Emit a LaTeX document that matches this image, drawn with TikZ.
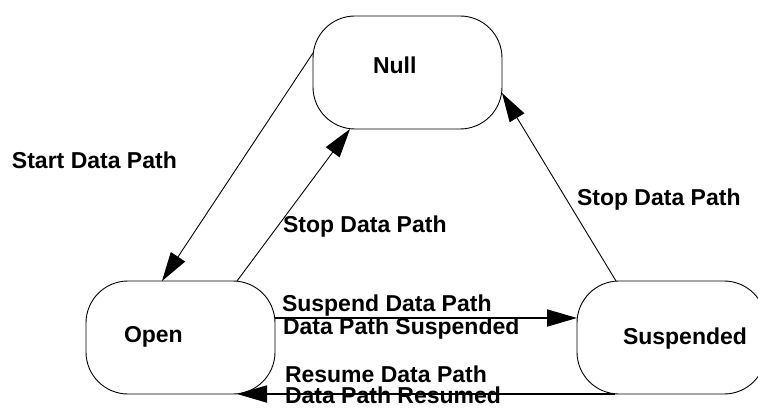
\documentclass[tikz,border=0pt]{standalone}
\usepackage{fontspec}
\setmainfont{Liberation Sans}
\usetikzlibrary{arrows.meta}
\begin{document}
\begin{tikzpicture}[x=1pt,y=-1pt,
  statebox/.style={draw=black,line width=0.9pt,rounded corners=42pt,minimum width=189pt,minimum height=113pt,inner sep=0pt,outer sep=0pt},
  lbl/.style={anchor=base west,inner sep=0pt,outer sep=0pt,font=\fontsize{23}{27}\selectfont\bfseries},
  thinarrow/.style={line width=0.9pt,-{Triangle[length=29pt,width=17pt]}},
  thickarrow/.style={line width=1.8pt,-{Triangle[length=30pt,width=17pt]}}]
\useasboundingbox (0,0) rectangle (758,409);
\fill[white] (0,0) rectangle (758,409);
% state boxes
\node[statebox] (null) at (407.5,72.5) {};
\node[statebox] (open) at (180.5,337.5) {};
\node[statebox] (susp) at (671.5,337.5) {};
% state names
\node[lbl] (tnull) at (373,73.5) {Null};
\node[lbl] (topen) at (124,342) {Open};
\node[lbl] (tsusp) at (623,344) {Suspended};
% connectors
\draw[thinarrow] ([yshift=19.5pt]null.west) -- ([xshift=-18.5pt]open.north);
\draw[thinarrow] ([xshift=56.5pt]open.north) -- ([xshift=-57.5pt]null.south);
\draw[thinarrow] ([xshift=-55.5pt]susp.north) -- ([yshift=-20.5pt]null.east);
\draw[thickarrow] ([yshift=19.5pt]open.east) -- ([yshift=19.5pt]susp.west);
\draw[thickarrow] ([xshift=-56.5pt]susp.south) -- ([xshift=56.5pt]open.south);
% transition labels
\node[lbl] (lstart) at (12,168) {Start Data Path};
\node[lbl] (lstop1) at (283,233) {Stop Data Path};
\node[lbl] (lstop2) at (577,205) {Stop Data Path};
\node[lbl] (lsusp1) at (282,311) {Suspend Data Path};
\node[lbl] (lsusp2) at (283,334) {Data Path Suspended};
\node[lbl] (lres1) at (285,382) {Resume Data Path};
\node[lbl] (lres2) at (285,403.5) {Data Path Resumed};
\end{tikzpicture}
\end{document}
